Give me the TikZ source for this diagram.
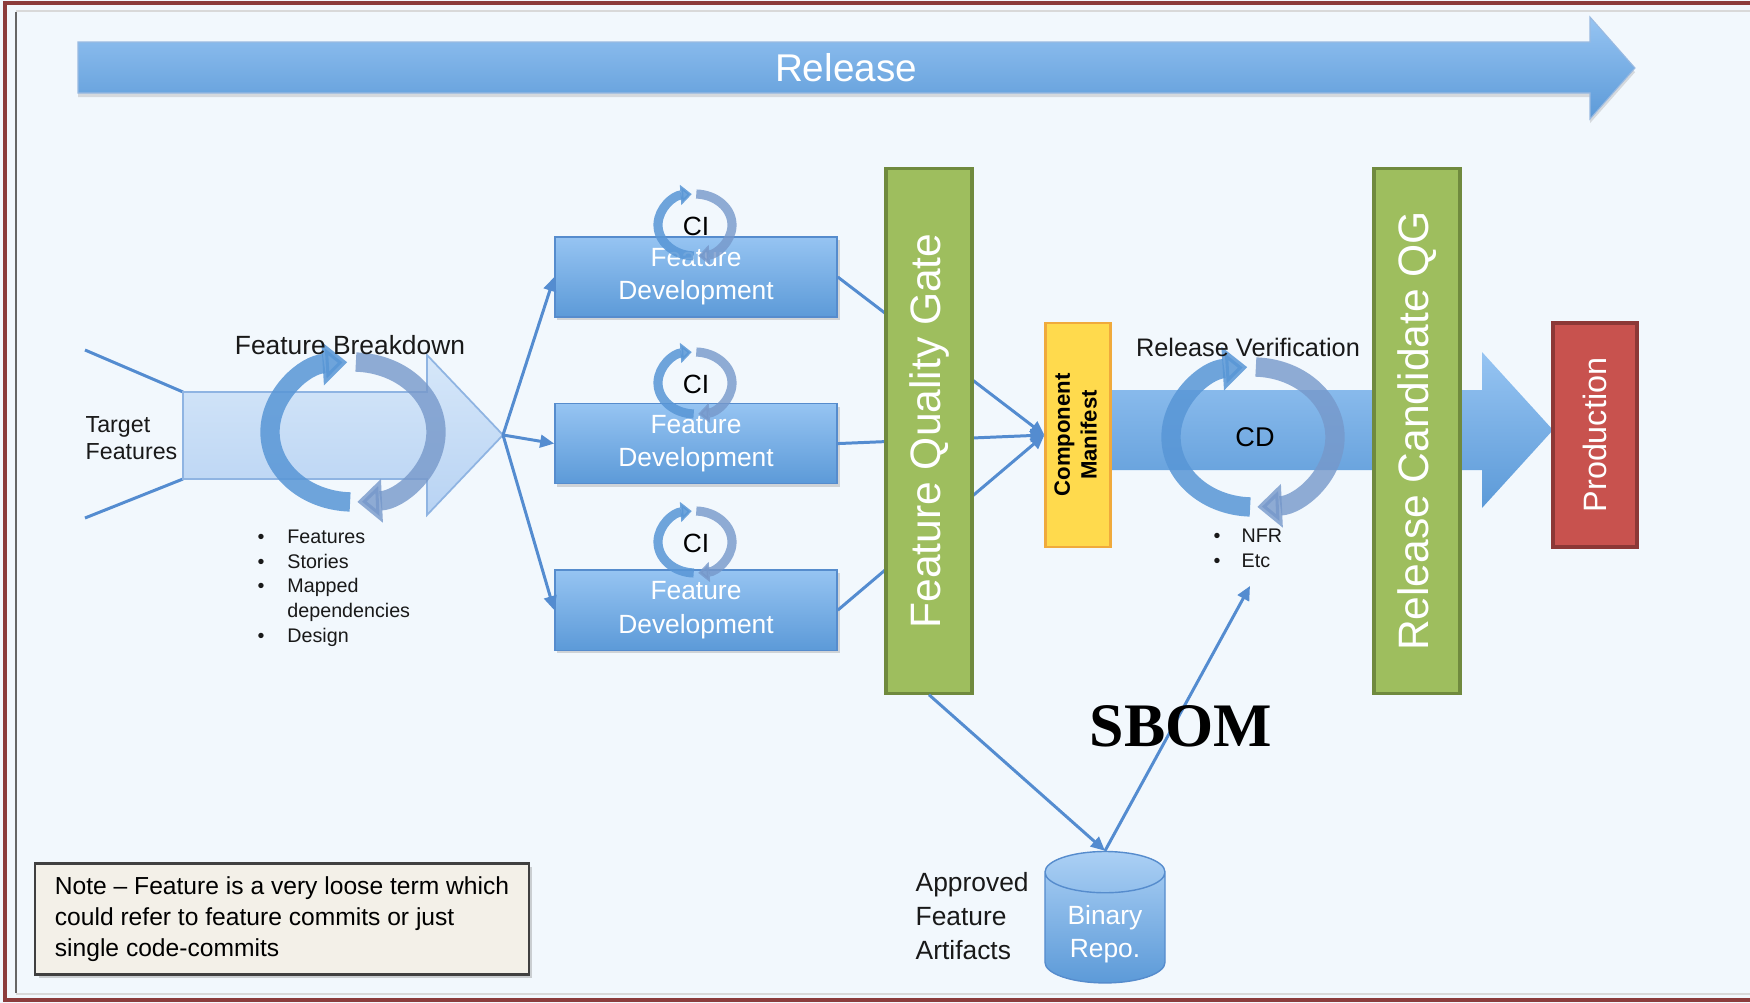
\documentclass[tikz,border=0pt]{standalone}
\usepackage{fontspec}
\setmainfont{Liberation Sans}
\newfontfamily\sbomfont{Liberation Serif}
\usepackage{graphicx}
\usetikzlibrary{shapes.geometric,arrows.meta,positioning,shadows}

\definecolor{bgblue}{RGB}{242,248,253}
\definecolor{boxtop}{RGB}{150,196,242}
\definecolor{boxbot}{RGB}{92,154,216}
\definecolor{boxline}{RGB}{86,140,205}
\definecolor{flowblue}{RGB}{84,140,208}
\definecolor{paletop}{RGB}{214,231,249}
\definecolor{palebot}{RGB}{184,211,243}
\definecolor{paleline}{RGB}{143,180,226}
\definecolor{ringfront}{RGB}{88,150,214}
\definecolor{ringback}{RGB}{118,152,202}
\definecolor{gatefill}{RGB}{158,190,94}
\definecolor{gateline}{RGB}{112,138,62}
\definecolor{maniffill}{RGB}{255,218,77}
\definecolor{manifline}{RGB}{240,170,60}
\definecolor{prodfill}{RGB}{200,82,78}
\definecolor{prodline}{RGB}{140,56,54}
\definecolor{notefill}{RGB}{243,240,232}
\definecolor{framered}{RGB}{140,60,60}

\begin{document}
\begin{tikzpicture}[
  x=0.01cm, y=0.01cm,
  >={Triangle[length=4pt, width=3.6pt]},
  lbl/.style={inner sep=0pt, align=left, text=black!90},
  devbox/.style={rectangle, draw=boxline, line width=0.4pt, top color=boxtop, bottom color=boxbot,
                 minimum width=2.82cm, minimum height=0.73cm, text=white, align=center,
                 font=\fontsize{7.5}{9.4}\selectfont,
                 drop shadow={opacity=0.3, shadow xshift=0.7pt, shadow yshift=-0.9pt}},
  gate/.style={rectangle, draw=gateline, line width=0.9pt, fill=gatefill, minimum width=0.86cm,
               minimum height=5.24cm, text=white, font=\fontsize{12.1}{14}\selectfont},
  manif/.style={rectangle, draw=manifline, line width=0.6pt, fill=maniffill, minimum width=0.65cm,
                minimum height=2.23cm, inner sep=0.5pt, font=\fontsize{6.3}{7.6}\selectfont\bfseries},
  prodbox/.style={rectangle, draw=prodline, line width=0.9pt, fill=prodfill, minimum width=0.84cm,
                  minimum height=2.24cm, text=white, font=\fontsize{9.2}{11}\selectfont},
  repo/.style={cylinder, shape border rotate=90, aspect=0.42, draw=boxline, top color=boxtop!80!white,
               bottom color=boxbot, minimum width=1.2cm, minimum height=1.24cm, text=white,
               align=center, font=\fontsize{7.5}{9.4}\selectfont},
  note/.style={rectangle, draw=black!75, line width=0.6pt, fill=notefill, minimum width=4.93cm,
               minimum height=1.11cm, align=left, font=\fontsize{7}{8.8}\selectfont,
               drop shadow={opacity=0.35, shadow xshift=0.9pt, shadow yshift=-1.1pt}},
  flow/.style={draw=flowblue, line width=0.85pt},
  bigarrow/.style={top color=boxtop, bottom color=boxbot, draw=boxline!60, line width=0.3pt},
  palearrow/.style={top color=paletop, bottom color=palebot, draw=paleline, line width=0.5pt},
  ringa/.style={draw=ringfront, opacity=0.85, line width=5.5pt, -{Triangle[length=7pt, width=12pt]}},
  ringb/.style={draw=ringback, opacity=0.8, line width=5.5pt, -{Triangle[length=7pt, width=12pt]}},
  cia/.style={draw=ringfront, opacity=0.85, line width=2.6pt, -{Triangle[length=3.2pt, width=5.6pt]}},
  cib/.style={draw=ringback, opacity=0.8, line width=2.6pt, -{Triangle[length=3.2pt, width=5.6pt]}},
]

\useasboundingbox (0,0) rectangle (1750,-1003);
\fill[bgblue] (0,0) rectangle (1750,-1003);
\draw[framered, line width=1pt] (1750,-3) -- (5,-3) -- (5,-1000) -- (1750,-1000);
\draw[black!60, line width=0.6pt] (16,-12) -- (16,-993);
\draw[black!15, line width=0.6pt] (16,-11) -- (1750,-11);
\draw[black!15, line width=0.6pt] (16,-994) -- (1750,-994);

\path[bigarrow, drop shadow={opacity=0.25, shadow xshift=0pt, shadow yshift=-1.2pt}]
  (78,-42) -- (1590,-42) -- (1590,-17) -- (1635,-68) -- (1590,-119) -- (1590,-93) -- (78,-93) -- cycle;
\node[text=white, font=\fontsize{11}{13}\selectfont] (release) at (846,-68) {Release};

\coordinate (tfa) at (85,-350);
\coordinate (tfb) at (85,-518);
\coordinate (brknw) at (183,-392);
\coordinate (brksw) at (183,-479);
\coordinate (fan) at (503,-435);
\draw[flow] (tfa) -- (brknw);
\draw[flow] (tfb) -- (brksw);
\path[palearrow] (brknw) -- (427,-392) -- (427,-355) -- (fan) -- (427,-515) -- (427,-479) -- (brksw) -- cycle;

\draw[ringb] (353,-432) ++(88:83 and 70) arc[start angle=88, end angle=-87, x radius=83, y radius=70];
\draw[ringa] (353,-432) ++(268:83 and 70) arc[start angle=268, end angle=94, x radius=83, y radius=70];

\node[lbl, font=\fontsize{6.6}{7.7}\selectfont, anchor=west] (target) at (85,-438) {Target\\Features};
\node[lbl, font=\fontsize{7.5}{9}\selectfont] (brklabel) at (350,-345) {Feature Breakdown};
\node[lbl, font=\fontsize{5.6}{7.1}\selectfont, anchor=west] (brklist) at (257,-588)
  {\begin{tabular}{@{}l@{\hspace{6.5pt}}l@{}}
   \textbullet & Features\\ \textbullet & Stories\\ \textbullet & Mapped\\ & dependencies\\ \textbullet & Design
   \end{tabular}};

\node[devbox] (fd1) at (696,-277) {Feature\\Development};
\node[devbox, below=0.85cm of fd1] (fd2) {Feature\\Development};
\node[devbox, below=0.85cm of fd2] (fd3) {Feature\\Development};

\draw[flow,->] (fan) -- (fd1.west);
\draw[flow,->] (fan) -- (fd2.west);
\draw[flow,->] (fan) -- (fd3.west);

\draw[cib] (695,-225) ++(88:37 and 31) arc[start angle=88, end angle=-85, x radius=37, y radius=31];
\draw[cia] (695,-225) ++(268:37 and 31) arc[start angle=268, end angle=95, x radius=37, y radius=31];
\draw[cib] (695,-383) ++(88:37 and 31) arc[start angle=88, end angle=-85, x radius=37, y radius=31];
\draw[cia] (695,-383) ++(268:37 and 31) arc[start angle=268, end angle=95, x radius=37, y radius=31];
\draw[cib] (695,-542) ++(88:37 and 31) arc[start angle=88, end angle=-85, x radius=37, y radius=31];
\draw[cia] (695,-542) ++(268:37 and 31) arc[start angle=268, end angle=95, x radius=37, y radius=31];
\node[font=\fontsize{7.5}{9}\selectfont] (ci1) at (696,-226) {CI};
\node[font=\fontsize{7.5}{9}\selectfont] (ci2) at (696,-384) {CI};
\node[font=\fontsize{7.5}{9}\selectfont] (ci3) at (696,-543) {CI};

\path[bigarrow, draw=none] (1110,-390) -- (1482,-390) -- (1482,-352) -- (1553,-430) -- (1482,-508)
  -- (1482,-470) -- (1110,-470) -- cycle;
\node[manif] (manifest) at (1078,-435) {\rotatebox{90}{\begin{tabular}{@{}c@{}}Component\\Manifest\end{tabular}}};

\draw[flow,->] (fd1.east) -- (manifest.west);
\draw[flow,->] (fd2.east) -- (manifest.west);
\draw[flow,->] (fd3.east) -- (manifest.west);

\node[gate] (fqg) at (929,-431) {\rotatebox{90}{Feature Quality Gate}};

\draw[ringb] (1253,-437) ++(88:82 and 70) arc[start angle=88, end angle=-87, x radius=82, y radius=70];
\draw[ringa] (1253,-437) ++(268:82 and 70) arc[start angle=268, end angle=94, x radius=82, y radius=70];
\node[font=\fontsize{7.7}{9}\selectfont] (cd) at (1255,-437) {CD};
\node[lbl, font=\fontsize{7.2}{9}\selectfont] (rvlabel) at (1248,-347) {Release Verification};
\node[lbl, font=\fontsize{5.6}{7.1}\selectfont, anchor=west] (rvlist) at (1213,-550)
  {\begin{tabular}{@{}l@{\hspace{6pt}}l@{}}
   \textbullet & NFR\\ \textbullet & Etc
   \end{tabular}};

\node[gate] (rcqg) at (1417,-431) {\rotatebox{90}{Release Candidate QG}};
\node[prodbox] (prod) at (1595,-435) {\rotatebox{90}{Production}};

\node[repo] (repo) at (1105,-934) {Binary\\Repo.};
\node[lbl, font=\fontsize{7.5}{9.7}\selectfont, anchor=west] (approved) at (915,-916) {Approved\\Feature\\Artifacts};
\coordinate (sbomtip) at (1250,-586);
\draw[flow,->] (fqg.south) -- (repo.top);
\draw[flow,->] (repo.top) -- (sbomtip);
\node[font=\sbomfont\bfseries\fontsize{17.6}{20}\selectfont] (sbom) at (1181,-726) {SBOM};

\node[note] (note) at (282,-919) {Note -- Feature is a very loose term which\\could refer to feature commits or just\\single code-commits};

\end{tikzpicture}
\end{document}
